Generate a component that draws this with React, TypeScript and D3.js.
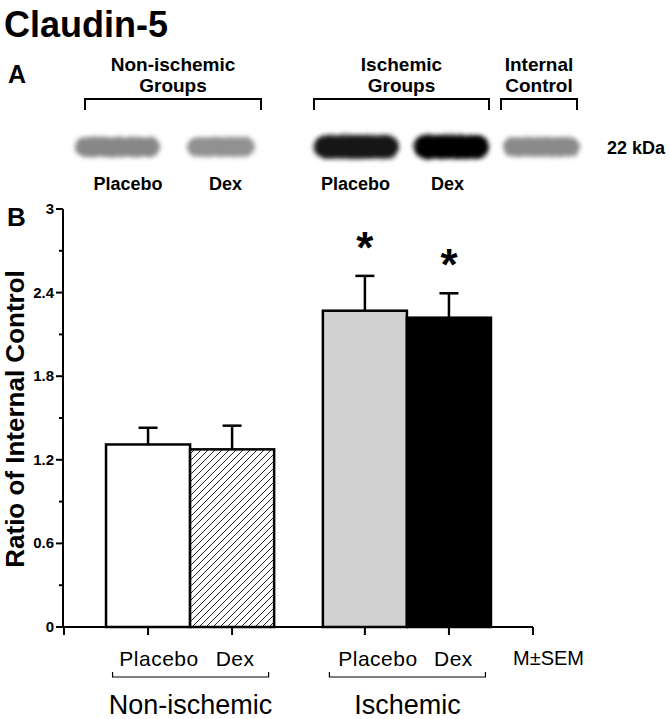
import React from "react";
import * as d3 from "d3";

// ---- data ----
const treatments = ["Placebo", "Dex", "Placebo", "Dex"];
const groups = ["Non-ischemic", "Ischemic"];
const groupOf = [0, 0, 1, 1];
const means = [1.31, 1.275, 2.27, 2.22];
const sems = [0.12, 0.17, 0.25, 0.175];
const significant = [false, false, true, true];
const slots = [1, 2, 3.58, 4.58];
const yTicks = [0, 0.6, 1.2, 1.8, 2.4, 3];
const yMinorTicks = [0.3, 0.9, 1.5, 2.1, 2.7];

const blotGroups = ["Non-ischemic\nGroups", "Ischemic\nGroups", "Internal\nControl"];
const blotLaneLabels = ["Placebo", "Dex", "Placebo", "Dex"];
const blotIntensity = [0.47, 0.43, 0.93, 0.98, 0.46];

// ---- layout ----
const W = 670, H = 719;
const laneX0 = [72, 184, 311, 411, 500];
const laneX1 = [163, 258, 402, 492, 583];
const laneLabelX = [128, 225.5, 355.5, 447.5];
const groupBr = [[85, 261], [314, 489], [501, 577]];
const barFills = ["#ffffff", "url(#hatch)", "#d2d2d2", "#000000"];
const xLabelOffset = [11, 3, 13, 4.5];

export default function App() {
  const x = d3.scaleLinear().domain([0, 5.58]).range([64, 533]);
  const y = d3.scaleLinear().domain([0, 3]).range([627, 209]);
  const bw = x(1) - x(0);
  const gray = d3.scaleLinear<string>().domain([0, 1]).range(["#ffffff", "#000000"]);
  const font = "Liberation Sans, Arial, Helvetica, sans-serif";

  const groupExtent = groups.map((_, g) => {
    const idx = treatments.map((_, i) => i).filter((i) => groupOf[i] === g);
    return [x(slots[idx[0]]), x(slots[idx[idx.length - 1]])];
  });

  return (
    <svg width={W} height={H} style={{ position: "absolute", left: 0, top: 0, background: "#fff" }} fontFamily={font}>
      <defs>
        <pattern id="hatch" patternUnits="userSpaceOnUse" width={7} height={7}>
          <rect width={7} height={7} fill="#fff" />
          <path d="M-1,1 L1,-1 M0,7 L7,0 M6,8 L8,6" stroke="#222" strokeWidth={1} />
        </pattern>
        <filter id="blot" x="-20%" y="-60%" width="140%" height="220%">
          <feTurbulence type="fractalNoise" baseFrequency="0.9" numOctaves="2" seed="3" result="noise" />
          <feDisplacementMap in="SourceGraphic" in2="noise" scale="7" xChannelSelector="R" yChannelSelector="G" result="disp" />
          <feGaussianBlur in="disp" stdDeviation="2.2" />
        </filter>
      </defs>

      {/* Title */}
      <text x={4} y={37} fontSize={36} fontWeight="bold">Claudin-5</text>
      <text x={8} y={83} fontSize={25} fontWeight="bold">A</text>
      <text x={7} y={226} fontSize={26} fontWeight="bold">B</text>

      {/* Panel A: blot */}
      {blotGroups.map((g, i) => {
        const [a, b] = groupBr[i];
        const lines = g.split("\n");
        return (
          <g key={"bg" + i}>
            {lines.map((l, j) => (
              <text key={j} x={(a + b) / 2} y={71 + j * 21} fontSize={19} fontWeight="bold" textAnchor="middle">{l}</text>
            ))}
            <path d={`M${a},110 V99 H${b} V110`} fill="none" stroke="#000" strokeWidth={2} />
          </g>
        );
      })}
      {blotIntensity.map((v, i) => {
        const h = 16 + v * 8;
        return (
          <rect key={"lane" + i} x={laneX0[i] + 3} y={147 - h / 2} width={laneX1[i] - laneX0[i] - 6} height={h} rx={h / 2}
            fill={gray(v)} filter="url(#blot)" />
        );
      })}
      {blotLaneLabels.map((l, i) => (
        <text key={"ll" + i} x={laneLabelX[i]} y={190} fontSize={18} fontWeight="bold" textAnchor="middle">{l}</text>
      ))}
      <text x={607} y={154} fontSize={18} fontWeight="bold">22 kDa</text>

      {/* Panel B: bars */}
      {means.map((m, i) => {
        const cx = x(slots[i]);
        return (
          <g key={"bar" + i}>
            <line x1={cx} x2={cx} y1={y(m)} y2={y(m + sems[i])} stroke="#000" strokeWidth={2.5} />
            <line x1={cx - 9.5} x2={cx + 9.5} y1={y(m + sems[i])} y2={y(m + sems[i])} stroke="#000" strokeWidth={2.5} />
            <rect x={cx - bw / 2} y={y(m)} width={bw} height={y(0) - y(m)} fill={barFills[i]} stroke="#000" strokeWidth={2.5} />
            {significant[i] && (
              <text x={cx} y={y(m + sems[i]) - 13} fontSize={44} fontWeight="bold" textAnchor="middle">*</text>
            )}
          </g>
        );
      })}

      {/* Y axis */}
      <line x1={63} x2={63} y1={y(3)} y2={y(0) + 1} stroke="#000" strokeWidth={2} />
      {yTicks.map((t) => (
        <g key={"yt" + t}>
          <line x1={56} x2={63} y1={y(t)} y2={y(t)} stroke="#000" strokeWidth={2} />
          <text x={54} y={y(t) + 5} fontSize={15} fontWeight="bold" textAnchor="end">{d3.format("~g")(t)}</text>
        </g>
      ))}
      {yMinorTicks.map((t) => (
        <line key={"ym" + t} x1={59} x2={63} y1={y(t)} y2={y(t)} stroke="#000" strokeWidth={2} />
      ))}
      <text transform={`translate(24,${(y(0) + y(3)) / 2 + 1}) rotate(-90)`} fontSize={26} fontWeight="bold" textAnchor="middle">
        Ratio of Internal Control
      </text>

      {/* X axis */}
      <line x1={62} x2={x(5.58)} y1={y(0)} y2={y(0)} stroke="#000" strokeWidth={2} />
      {[0, ...slots, 5.58].map((s, i) => (
        <line key={"xt" + i} x1={x(s)} x2={x(s)} y1={y(0)} y2={y(0) + 8} stroke="#000" strokeWidth={2} />
      ))}
      {treatments.map((t, i) => (
        <text key={"xl" + i} x={x(slots[i]) + xLabelOffset[i]} y={666} fontSize={21} letterSpacing={0.5} textAnchor="middle">{t}</text>
      ))}
      {groups.map((g, gi) => {
        const [a, b] = groupExtent[gi];
        const l = a - 35.5, r = b + 36.5;
        return (
          <g key={"grp" + gi}>
            <path d={`M${l},672 V677 H${r} V672`} fill="none" stroke="#000" strokeWidth={1.2} />
            <text x={(l + r) / 2} y={714} fontSize={27} textAnchor="middle">{g}</text>
          </g>
        );
      })}
      <text x={513} y={665} fontSize={20}>M±SEM</text>
    </svg>
  );
}
